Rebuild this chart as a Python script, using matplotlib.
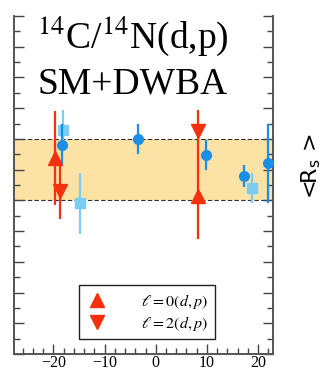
import matplotlib
matplotlib.use("Agg")
import matplotlib.pyplot as plt
from matplotlib.lines import Line2D
from matplotlib.ticker import MultipleLocator

plt.rcParams['mathtext.fontset'] = 'stix'

# l=0 (d,p) points, up triangles
l0_x = [-19.6, 8.3]
l0_y = [0.638, 0.514]
l0_err = [0.154, 0.141]

# l=2 (d,p) points, down triangles
l2_x = [-18.8, 8.3]
l2_y = [0.530, 0.725]
l2_err = [0.092, 0.070]

# other data sets: dark blue circles
circ_x = [-18.3, -3.4, 9.8, 17.3, 22.0]
circ_y = [0.679, 0.700, 0.649, 0.579, 0.620]
circ_err = [0.068, 0.048, 0.049, 0.037, 0.127]

# light blue squares
sq_x = [-18.1, -14.9, 18.8]
sq_y = [0.730, 0.490, 0.541]
sq_err = [0.065, 0.100, 0.048]

band_lo, band_hi = 0.5, 0.7
legend_labels = [r'$\ell = 0(d,p)$', r'$\ell = 2(d,p)$']

red = '#f5300f'
dblue = '#1b8fe6'
lblue = '#7ccdf4'
band_col = '#fde2a6'

fig = plt.figure(figsize=(3.22, 3.72), dpi=100)
ax = fig.add_axes([0.0435, 0.0484, 0.8043, 0.9086])

ax.axhspan(band_lo, band_hi, color=band_col, lw=0, zorder=0)
ax.axhline(band_lo, color='#333333', ls='--', lw=0.8, dashes=(4, 2), zorder=1)
ax.axhline(band_hi, color='#333333', ls='--', lw=0.8, dashes=(4, 2), zorder=1)

ax.errorbar(sq_x, sq_y, yerr=sq_err, fmt='s', color=lblue, ms=6.5,
            elinewidth=1.6, capsize=0, zorder=3)
ax.errorbar(circ_x, circ_y, yerr=circ_err, fmt='o', color=dblue, ms=7,
            elinewidth=1.6, capsize=0, zorder=4)
ax.errorbar(l0_x, l0_y, yerr=l0_err, fmt='^', color=red, ms=10,
            elinewidth=1.6, capsize=0, zorder=5)
ax.errorbar(l2_x, l2_y, yerr=l2_err, fmt='v', color=red, ms=10,
            elinewidth=1.6, capsize=0, zorder=5)

ax.set_xlim(-27.7, 22.9)
ax.set_ylim(0.0, 1.1)
ax.xaxis.set_major_locator(MultipleLocator(10))
ax.xaxis.set_minor_locator(MultipleLocator(2))
ax.yaxis.set_major_locator(MultipleLocator(0.1))
ax.yaxis.set_minor_locator(MultipleLocator(0.05))
ax.tick_params(which='both', direction='in', left=True, right=True,
               top=False, labelleft=False, color='#444444', width=1)
ax.tick_params(which='major', length=7)
ax.tick_params(which='minor', length=4)
ax.tick_params(axis='x', pad=1.0)
for lab in ax.get_xticklabels():
    lab.set_fontfamily('Liberation Serif')
    lab.set_fontsize(11.5)

ax.spines['top'].set_visible(False)
for s in ['left', 'right', 'bottom']:
    ax.spines[s].set_color('#555555')
    ax.spines[s].set_linewidth(1.4)

ax.text(0.09, 0.905, r'$^{14}$C/$^{14}$N(d,p)', transform=ax.transAxes,
        family='Liberation Serif', fontsize=27, ha='left', va='baseline')
ax.text(0.09, 0.772, 'SM+DWBA', transform=ax.transAxes,
        family='Liberation Serif', fontsize=27, ha='left', va='baseline')

fig.text(0.963, 0.555, r'<R$_\mathregular{s}$ >', rotation=90, fontsize=16,
         ha='center', va='center', family='DejaVu Sans')

handles = [
    Line2D([], [], ls='', marker='^', color=red, ms=10),
    Line2D([], [], ls='', marker='v', color=red, ms=10),
]
leg = ax.legend(handles, legend_labels,
                loc='lower left', bbox_to_anchor=(0.251, 0.044),
                borderaxespad=0, fancybox=False, framealpha=1,
                edgecolor='#222222', fontsize=11.5, handlelength=1.5,
                handletextpad=2.0, borderpad=0.4, labelspacing=0.2)
leg.get_frame().set_linewidth(1.0)

fig.savefig('out.png', dpi=100)
